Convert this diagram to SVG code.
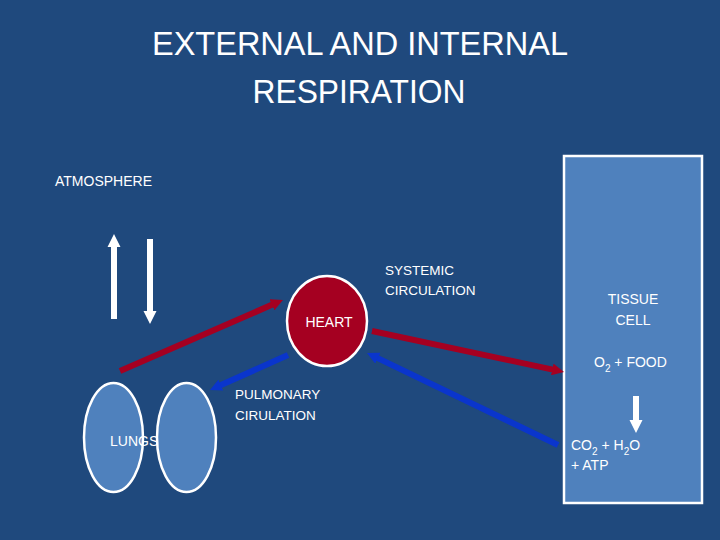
<svg xmlns="http://www.w3.org/2000/svg" width="720" height="540" viewBox="0 0 720 540">
<style>
text{font-family:"Liberation Sans",Arial,sans-serif;fill:#ffffff}
.title{font-size:33px}
.lbl{font-size:14px}
.sm{font-size:13.5px}
.red{stroke:#A50021;stroke-width:6;fill:none}
.blue{stroke:#0A35CC;stroke-width:6;fill:none}
.white{fill:#ffffff}
.organ{fill:#4F81BD;stroke:#ffffff;stroke-width:2.5}
</style>
<defs>
<marker id="hr" markerUnits="userSpaceOnUse" markerWidth="12" markerHeight="12" refX="3" refY="6" orient="auto"><path d="M0,0 L12,6 L0,12 z" fill="#A50021"/></marker>
<marker id="hb" markerUnits="userSpaceOnUse" markerWidth="12" markerHeight="12" refX="3" refY="6" orient="auto"><path d="M0,0 L12,6 L0,12 z" fill="#0A35CC"/></marker>
</defs>
<rect x="0" y="0" width="720" height="540" fill="#1F497D"/>
<g id="title">
<text class="title" x="360" y="55" text-anchor="middle" textLength="416" lengthAdjust="spacingAndGlyphs">EXTERNAL AND INTERNAL</text>
<text class="title" x="359" y="103" text-anchor="middle" textLength="213" lengthAdjust="spacingAndGlyphs">RESPIRATION</text>
</g>
<g id="atmosphere">
<text class="lbl" x="55" y="186">ATMOSPHERE</text>
<path class="white" d="M111,319 L111,247 L107.5,247 L114,234 L120.5,247 L117,247 L117,319 Z"/>
<path class="white" d="M147,239 L153,239 L153,311 L156.5,311 L150,324 L143.5,311 L147,311 Z"/>
</g>
<g id="tissue-cell">
<rect class="organ" x="564" y="156" width="138" height="347" stroke-width="2"/>
<text class="lbl" x="633" y="304" text-anchor="middle">TISSUE</text>
<text class="lbl" x="633" y="325" text-anchor="middle">CELL</text>
<text class="lbl" x="594" y="367">O<tspan font-size="10" dy="5">2</tspan><tspan dy="-5"> + FOOD</tspan></text>
<path class="white" d="M633,396 L639,396 L639,420 L642.5,420 L636,433 L629.5,420 L633,420 Z"/>
<text class="lbl" x="571" y="450">CO<tspan font-size="10" dy="5">2</tspan><tspan dy="-5"> + H</tspan><tspan font-size="10" dy="5">2</tspan><tspan dy="-5">O</tspan></text>
<text class="lbl" x="571" y="470">+ ATP</text>
</g>
<g id="lungs">
<ellipse class="organ" cx="113.5" cy="437.5" rx="29.5" ry="54.5"/>
<ellipse class="organ" cx="186.5" cy="437.5" rx="29.5" ry="54.5"/>
<text class="lbl" x="110" y="446">LUNGS</text>
</g>
<g id="heart">
<ellipse cx="327" cy="321" rx="40" ry="45" fill="#A50021" stroke="#ffffff" stroke-width="2.5"/>
<text class="lbl" x="329" y="327" text-anchor="middle">HEART</text>
</g>
<g id="connectors">
<line class="red" x1="120" y1="371" x2="274.7" y2="303.6" marker-end="url(#hr)"/>
<line class="red" x1="372" y1="331" x2="555.2" y2="370.1" marker-end="url(#hr)"/>
<line class="blue" x1="288" y1="355" x2="218.2" y2="386.3" marker-end="url(#hb)"/>
<line class="blue" x1="558" y1="445" x2="375.1" y2="356.9" marker-end="url(#hb)"/>
</g>
<g id="labels">
<text class="sm" x="385" y="275">SYSTEMIC</text>
<text class="sm" x="385" y="295">CIRCULATION</text>
<text class="sm" x="235" y="399">PULMONARY</text>
<text class="sm" x="235" y="420">CIRULATION</text>
</g>
</svg>
